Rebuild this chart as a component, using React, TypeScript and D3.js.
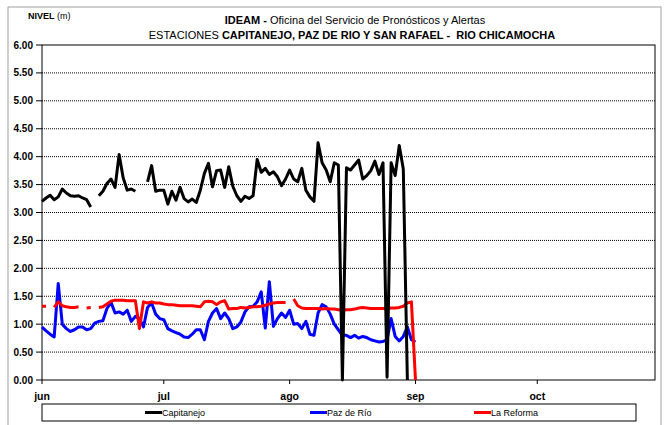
import * as d3 from 'd3'

// days counted from jun 1; null = no reading
const capitanejo: (number | null)[] = [
  3.2, 3.26, 3.31, 3.23, 3.28, 3.42, 3.35, 3.3, 3.29, 3.3, 3.26, 3.23, 3.1, null,
  3.3, 3.38, 3.52, 3.6, 3.45, 4.04, 3.62, 3.4, 3.42, 3.38, null, null,
  3.55, 3.84, 3.38, 3.4, 3.4, 3.15, 3.38, 3.22, 3.45, 3.25, 3.19, 3.24, 3.18, 3.4,
  3.7, 3.88, 3.46, 3.75, 3.76, 3.45, 3.82, 3.47, 3.3, 3.2, 3.29, 3.25, 3.3, 3.95,
  3.72, 3.79, 3.68, 3.73, 3.64, 3.48, 3.6, 3.76, 3.6, 3.55, 3.79, 3.4, 3.28, 3.2,
  4.25, 3.89, 3.76, 3.55, 3.89, 3.85, 0, 3.8, 3.76, 3.85, 3.94, 3.6, 3.66, 3.75,
  3.92, 3.68, 3.89, 0.05, 3.89, 3.66, 4.2, 3.78, 0,
]
const pazDeRio: (number | null)[] = [
  0.95, 0.88, 0.82, 0.77, 1.73, 1.0, 0.92, 0.87, 0.9, 0.95, 0.95, 0.9, 0.92, 1.02,
  1.05, 1.06, 1.28, 1.39, 1.2, 1.22, 1.18, 1.25, 1.05, 1.14, 1.1, 0.95, 1.3, 1.38,
  1.18, 1.1, 1.08, 0.92, 0.88, 0.85, 0.82, 0.77, 0.76, 0.82, 0.9, 0.9, 0.72, 1.05,
  1.2, 1.28, 1.1, 1.2, 1.1, 0.92, 0.95, 1.04, 1.22, 1.31, 1.32, 1.4, 1.58, 0.93,
  1.76, 0.96, 1.1, 1.2, 1.12, 1.25, 1.0, 1.01, 0.92, 1.05, 0.82, 0.8, 1.2, 1.35,
  1.31, 1.18, 1.0, 0.9, 0.8, 0.8, 0.76, 0.8, 0.75, 0.78, 0.76, 0.72, 0.7, 0.68,
  0.69, 0.72, 1.1, 0.78, 0.7, 0.78, 0.95, 0.72, 0.68,
]
const laReforma: (number | null)[] = [
  1.32, 1.32, null, 1.3, 1.4, 1.33, 1.31, 1.3, 1.3, 1.31, null, 1.29, 1.3, null,
  1.3, 1.31, 1.36, 1.41, 1.43, 1.43, 1.43, 1.42, 1.42, 1.42, 0.92, 1.4, 1.38, 1.4,
  1.38, 1.38, 1.36, 1.35, 1.35, 1.34, 1.33, 1.33, 1.33, 1.33, 1.32, 1.31, 1.4, 1.41,
  1.4, 1.35, 1.4, 1.42, 1.27, 1.28, 1.28, 1.3, 1.29, 1.3, 1.31, 1.31, 1.32, 1.34,
  1.36, 1.38, 1.39, 1.39, 1.39, null, 1.45, 1.33, 1.29, 1.28, 1.28, 1.28, 1.28,
  1.27, 1.28, 1.27, 1.27, 1.26, 1.25, 1.26, 1.26, 1.27, 1.29, 1.3, 1.29, 1.28,
  1.28, 1.28, 1.28, 1.28, 1.29, 1.29, 1.3, 1.32, 1.38, 1.4, 0,
]

const yTicks = [0, 0.5, 1, 1.5, 2, 2.5, 3, 3.5, 4, 4.5, 5, 5.5, 6]
const monthLabels = ['jun', 'jul', 'ago', 'sep', 'oct']
const monthStarts = [5, 6, 7, 8, 9] // utc month index, 2013

const seriesNames = ['Capitanejo', 'Paz de Río', 'La Reforma']
const seriesColors = ['#000000', '#0000ff', '#ff0000']

const width = 672
const height = 425
const left = 42
const right = 655
const top = 45
const bottom = 380
const font = "'Liberation Sans', Arial, sans-serif"

const day0 = Date.UTC(2013, 5, 1)
const dayDate = (i: number) => new Date(day0 + i * 86400000)

export default function App() {
  const x = d3
    .scaleUtc()
    .domain([new Date(Date.UTC(2013, 5, 1)), new Date(Date.UTC(2013, 9, 30))])
    .range([left, right])
  const y = d3.scaleLinear().domain([0, 6]).range([bottom, top])

  const line = d3
    .line<number | null>()
    .defined((d) => d != null)
    .x((_, i) => x(dayDate(i)))
    .y((d) => y(d as number))

  const series = [capitanejo, pazDeRio, laReforma]
  // blue first, red over it, black on top
  const drawOrder = [1, 2, 0]

  const legendX = [145, 310, 474]

  return (
    <svg
      width={width}
      height={height}
      style={{ position: 'absolute', left: 0, top: 0, background: '#fff' }}
      fontFamily={font}
    >
      <rect x={8} y={7} width={653} height={430} fill="#fff" stroke="#a0a0a0" />

      {/* titles */}
      <text x={28} y={19} fontSize={9}>
        <tspan fontWeight="bold">NIVEL</tspan>
        <tspan> (m)</tspan>
      </text>
      <text x={355} y={24} fontSize={11} textAnchor="middle">
        <tspan fontWeight="bold">IDEAM -</tspan>
        <tspan> Oficina del Servicio de Pronósticos y Alertas</tspan>
      </text>
      <text x={352} y={39} fontSize={11} textAnchor="middle">
        <tspan>ESTACIONES </tspan>
        <tspan fontWeight="bold">
          {'CAPITANEJO, PAZ DE RIO Y SAN RAFAEL -\u00a0 RIO CHICAMOCHA'}
        </tspan>
      </text>

      {/* grid + y axis */}
      {yTicks.map((t) => (
        <g key={t}>
          {t > 0 && t < 6 && (
            <line
              x1={left}
              x2={right}
              y1={y(t)}
              y2={y(t)}
              stroke="#000"
              strokeWidth={1}
              strokeDasharray="1,1"
            />
          )}
          <line x1={left - 6} x2={left} y1={y(t)} y2={y(t)} stroke="#000" />
          <text
            x={left - 9}
            y={y(t) + 3.5}
            fontSize={10}
            fontWeight="bold"
            textAnchor="end"
          >
            {t.toFixed(2)}
          </text>
        </g>
      ))}
      <rect
        x={left}
        y={top}
        width={right - left}
        height={bottom - top}
        fill="none"
        stroke="#000"
      />

      {/* x axis */}
      {monthLabels.map((m, i) => {
        const px = x(new Date(Date.UTC(2013, monthStarts[i], 1)))
        return (
          <g key={m}>
            <line x1={px} x2={px} y1={bottom} y2={bottom + 4} stroke="#000" />
            <text x={px} y={400} fontSize={10.5} fontWeight="bold" textAnchor="middle">
              {m}
            </text>
          </g>
        )
      })}

      {/* series */}
      {drawOrder.map((k) => (
        <path
          key={k}
          d={line(series[k]) || ''}
          fill="none"
          stroke={seriesColors[k]}
          strokeWidth={3}
          strokeLinejoin="round"
        />
      ))}

      {/* legend */}
      <rect x={42} y={404} width={594} height={17} fill="#fff" stroke="#000" />
      {seriesNames.map((n, i) => (
        <g key={n}>
          <line
            x1={legendX[i]}
            x2={legendX[i] + 17}
            y1={412.5}
            y2={412.5}
            stroke={seriesColors[i]}
            strokeWidth={3}
          />
          <text x={legendX[i] + 17} y={416} fontSize={9}>
            {n}
          </text>
        </g>
      ))}
    </svg>
  )
}
